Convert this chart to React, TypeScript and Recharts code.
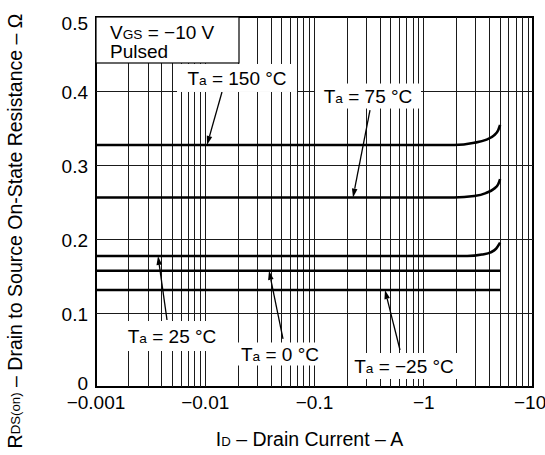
import React from "react";
import {
  LineChart,
  Line,
  XAxis,
  YAxis,
  ReferenceLine,
  ReferenceDot,
  ReferenceArea,
} from "recharts";

// ---- data ----
const CURRENT_TICKS = [0.001, 0.01, 0.1, 1, 10];
const GRID_CURRENT = [
  0.002, 0.003, 0.004, 0.005, 0.006, 0.007, 0.008, 0.009, 0.01,
  0.02, 0.03, 0.04, 0.05, 0.06, 0.07, 0.08, 0.09, 0.1,
  0.2, 0.3, 0.4, 0.5, 0.6, 0.7, 0.8, 0.9, 1,
  2, 3, 4, 5, 6, 7, 8, 9,
];
const R_TICKS = [0, 0.1, 0.2, 0.3, 0.4, 0.5];
const R_GRID = [0.1, 0.2, 0.3, 0.4];

const ID_150 = [0.001, 1.9, 2.9, 3.7, 4.4, 4.8, 5];
const R_150 = [0.327, 0.327, 0.330, 0.334, 0.340, 0.347, 0.354];
const ID_75 = [0.001, 1.9, 2.9, 3.7, 4.4, 4.8, 5];
const R_75 = [0.256, 0.256, 0.258, 0.262, 0.268, 0.274, 0.281];
const ID_25 = [0.001, 2.5, 3.4, 4.1, 4.6, 5];
const R_25 = [0.177, 0.177, 0.179, 0.182, 0.187, 0.195];
const ID_0 = [0.001, 5];
const R_0 = [0.157, 0.157];
const ID_M25 = [0.001, 5];
const R_M25 = [0.131, 0.131];

const TEMPS = ["150", "75", "25", "0", "\u221225"];
const LABEL_X = [0.01953, 0.3089, 0.004962, 0.04832, 0.6596];
const LABEL_Y = [0.4176, 0.3932, 0.0689, 0.0446, 0.0284];
const ARROW_FROM_X = [0.01423, 0.3221, 0.004467, 0.05149, 0.6064];
const ARROW_FROM_Y = [0.3986, 0.3743, 0.0905, 0.0649, 0.05];
const ARROW_TO_X = [0.01038, 0.2251, 0.003695, 0.03835, 0.4417];
const ARROW_TO_Y = [0.327, 0.256, 0.177, 0.157, 0.131];

const BOX_CORNER_X = 0.001;
const BOX_CORNER_Y = 0.5;

const zip = (xs: number[], ys: number[]) => xs.map((x, k) => ({ i: x, r: ys[k] }));
const SERIES = [
  { name: "150", data: zip(ID_150, R_150), curve: "monotone" },
  { name: "75", data: zip(ID_75, R_75), curve: "monotone" },
  { name: "25", data: zip(ID_25, R_25), curve: "monotone" },
  { name: "0", data: zip(ID_0, R_0), curve: "linear" },
  { name: "-25", data: zip(ID_M25, R_M25), curve: "linear" },
];

// ---- styles ----
const FONT = "'Liberation Sans', Arial, Helvetica, sans-serif";
const FS = 19;
const LABEL_W = [120, 106, 104, 90, 110];
const LABEL_H = [28, 25, 30, 23, 26];
const BOX_W = 143;
const BOX_H = 46;
const Y_TICK_SHIFT: Record<string, number> = { "0": -4, "0.5": 6 };

const gridShape = (p: any) => (
  <line
    x1={p.x1}
    y1={p.y1}
    x2={p.x2}
    y2={p.y2}
    stroke="#1a1a1a"
    strokeWidth={1}
    shapeRendering="crispEdges"
  />
);

const arrowShape = (p: any) => {
  const { x1, y1, x2, y2 } = p;
  const dx = x2 - x1;
  const dy = y2 - y1;
  const len = Math.hypot(dx, dy) || 1;
  const ux = dx / len;
  const uy = dy / len;
  const hl = 9;
  const hw = 2.8;
  const bx = x2 - ux * hl;
  const by = y2 - uy * hl;
  return (
    <g>
      <line x1={x1} y1={y1} x2={bx} y2={by} stroke="#000" strokeWidth={1.3} />
      <polygon
        points={`${x2},${y2} ${bx - uy * hw},${by + ux * hw} ${bx + uy * hw},${by - ux * hw}`}
        fill="#000"
      />
    </g>
  );
};

const makeLabelShape = (k: number) => (p: any) => {
  const { cx, cy } = p;
  const w = LABEL_W[k];
  const h = LABEL_H[k];
  return (
    <g>
      <rect x={cx - w / 2} y={cy - h / 2} width={w} height={h} fill="#fff" />
      <text x={cx} y={cy + 7} textAnchor="middle" fontSize={FS} fontFamily={FONT} fill="#000">
        T
        <tspan fontSize={FS * 0.72}>a</tspan>
        {` = ${TEMPS[k]} \u00B0C`}
      </text>
    </g>
  );
};

const boxShape = (p: any) => {
  const x = p.cx;
  const y = p.cy;
  return (
    <g>
      <rect x={x} y={y} width={BOX_W} height={BOX_H} fill="#fff" stroke="#000" strokeWidth={1.2} />
      <text x={x + 14} y={y + 22} fontSize={FS} fontFamily={FONT} fill="#000">
        V<tspan fontSize={FS * 0.72}>GS</tspan>
        {" = \u221210 V"}
      </text>
      <text x={x + 14} y={y + 41} fontSize={FS} fontFamily={FONT} fill="#000">
        Pulsed
      </text>
    </g>
  );
};

const yTick = (p: any) => {
  const { x, y, payload } = p;
  const lab = String(payload.value);
  const sh = Y_TICK_SHIFT[lab] ?? 1;
  return (
    <text
      x={x}
      y={y + sh}
      textAnchor="end"
      dominantBaseline="central"
      fontSize={FS}
      fontFamily={FONT}
      fill="#000"
    >
      {lab}
    </text>
  );
};

const yLabel = (p: any) => {
  const vb = p.viewBox || {};
  const cx = (vb.x ?? 0) + 15;
  const cy = (vb.y ?? 0) + (vb.height ?? 0) / 2 + 29;
  return (
    <text
      x={cx}
      y={cy}
      transform={`rotate(-90, ${cx}, ${cy})`}
      textAnchor="middle"
      dominantBaseline="central"
      fontSize={19.5}
      fontFamily={FONT}
      fill="#000"
    >
      R<tspan fontSize={19.5 * 0.68}>DS(on)</tspan>
      {" \u2013 Drain to Source On-State Resistance \u2013 \u03A9"}
    </text>
  );
};

const xLabel = (p: any) => {
  const vb = p.viewBox || {};
  const cx = (vb.x ?? 0) + (vb.width ?? 0) / 2 - 5;
  const cy = (vb.y ?? 0) + 59;
  return (
    <text x={cx} y={cy} textAnchor="middle" fontSize={19.5} fontFamily={FONT} fill="#000">
      I<tspan fontSize={19.5 * 0.68}>D</tspan>
      {" \u2013 Drain Current \u2013 A"}
    </text>
  );
};

export default function App() {
  return (
    <div style={{ position: "absolute", left: 0, top: 0, fontFamily: FONT, background: "#fff" }}>
      <LineChart width={545} height={455} margin={{ top: 17, right: 12, bottom: 0, left: 0 }}>
        <XAxis
          dataKey="i"
          type="number"
          scale="log"
          domain={[0.001, 10]}
          ticks={CURRENT_TICKS}
          allowDataOverflow
          height={68}
          tickSize={0}
          tickMargin={9}
          axisLine={false}
          tickLine={false}
          tick={{ fontSize: FS, fill: "#000", fontFamily: FONT }}
          tickFormatter={(v: number) => "\u2212" + String(v)}
          label={{ content: xLabel }}
        />
        <YAxis
          type="number"
          domain={[0, 0.5]}
          ticks={R_TICKS}
          width={96}
          tickSize={0}
          tickMargin={8}
          axisLine={false}
          tickLine={false}
          tick={yTick}
          label={{ content: yLabel }}
        />
        {GRID_CURRENT.map((v) => (
          <ReferenceLine key={"gx" + v} x={v} shape={gridShape} />
        ))}
        {R_GRID.map((v) => (
          <ReferenceLine key={"gy" + v} y={v} shape={gridShape} />
        ))}
        {SERIES.map((s) => (
          <Line
            key={s.name}
            data={s.data}
            dataKey="r"
            type={s.curve as any}
            stroke="#000"
            strokeWidth={2.6}
            dot={false}
            activeDot={false}
            isAnimationActive={false}
          />
        ))}
        <ReferenceDot x={BOX_CORNER_X} y={BOX_CORNER_Y} r={1} shape={boxShape} />
        {TEMPS.map((t, k) => (
          <ReferenceDot key={"lbl" + k} x={LABEL_X[k]} y={LABEL_Y[k]} r={1} shape={makeLabelShape(k)} />
        ))}
        {TEMPS.map((t, k) => (
          <ReferenceLine
            key={"arr" + k}
            segment={[
              { x: ARROW_FROM_X[k], y: ARROW_FROM_Y[k] },
              { x: ARROW_TO_X[k], y: ARROW_TO_Y[k] },
            ]}
            shape={arrowShape}
          />
        ))}
        <ReferenceArea
          x1={0.001}
          x2={10}
          y1={0}
          y2={0.5}
          fill="none"
          fillOpacity={0}
          stroke="#000"
          strokeWidth={2}
        />
      </LineChart>
    </div>
  );
}
